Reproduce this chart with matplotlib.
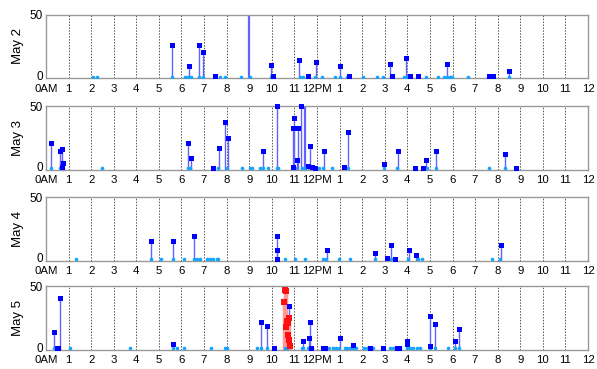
import matplotlib
matplotlib.use("Agg")
import matplotlib.pyplot as plt
from matplotlib.transforms import ScaledTranslation

plt.rcParams['font.family'] = ['Liberation Sans', 'DejaVu Sans']

days = ["May 2", "May 3", "May 4", "May 5"]

# stems (hour of day, value)
may2_hr = [5.58, 6.33, 6.79, 6.95, 7.48, 9.0, 9.95, 10.04, 11.22, 11.60, 11.96, 13.02,
           13.40, 15.23, 15.30, 15.94, 16.10, 16.46, 17.76, 19.60, 19.72, 19.80, 20.49]
may2_val = [26, 9.4, 26, 20.8, 1.5, 80, 10.2, 1.5, 14.6, 1.5, 12.7, 9.4,
            1.5, 11.2, 1.5, 15.9, 1.5, 1.5, 11.2, 1.5, 1.5, 1.5, 6.0]

may3_hr = [0.21, 0.62, 0.69, 0.77, 0.72, 6.27, 6.41, 7.41, 7.66, 7.94, 8.04, 9.60, 10.21,
           10.93, 10.98, 10.95, 11.15, 11.13, 11.29, 11.47, 11.59, 11.69, 11.80, 11.90, 12.31,
           13.21, 13.39, 14.97, 15.57, 16.34, 16.71, 16.81, 17.26, 20.33, 20.80]
may3_val = [21, 15, 16.4, 5.5, 2, 21, 9.4, 1.5, 16.9, 38, 25.3, 15.1, 50,
            2, 41, 32.5, 32.5, 7.3, 50, 60, 3, 19, 2, 1.5, 15.1,
            2, 29.4, 4.2, 15.1, 1.5, 1.5, 7.8, 15.1, 12.2, 1.5]

may4_hr = [4.66, 5.62, 6.55, 10.21, 10.21, 10.21, 12.43, 14.57, 15.09, 15.27, 15.46,
           16.09, 16.39, 20.14]
may4_val = [15.4, 15.4, 19.5, 19.0, 8.0, 1.5, 8.0, 6.0, 2.3, 12.5, 1.5,
            8.6, 4.2, 12.0]

may5_hr = [0.35, 0.50, 0.55, 0.62, 5.61, 9.51, 9.77, 10.11, 10.78, 11.40, 11.65, 11.69,
           11.73, 12.25, 12.35, 13.02, 13.58, 14.35, 14.91, 15.55, 15.65, 16.00, 16.00,
           17.01, 17.01, 17.23, 18.11, 18.29]
may5_val = [14.1, 1.5, 1.5, 40.6, 4.7, 21.9, 18.5, 1.5, 34.9, 6.8, 9.4, 21.9,
            1.5, 1.5, 1.5, 9.4, 3.4, 1.5, 1.5, 1.5, 1.5, 6.8, 4.5,
            26.8, 3.0, 20.3, 6.8, 16.4]

# red burst on May 5
may5_red_hr = [10.56, 10.59, 10.62, 10.64, 10.66, 10.68, 10.70, 10.72, 10.75, 10.78, 10.80]
may5_red_val = [38, 47.5, 46, 18, 22, 23, 21, 12, 8, 25, 3]

# light blue dots near zero
may2_dots = [2.10, 2.24, 5.58, 6.16, 6.27, 6.41, 6.79, 6.94, 7.71, 7.93, 8.62, 9.03, 9.95,
             10.04, 11.25, 11.40, 11.91, 12.21, 12.80, 13.02, 13.32, 14.02, 14.64, 14.91,
             15.87, 16.0, 16.83, 17.37, 17.63, 17.77, 17.89, 17.98, 18.70, 19.63, 20.49]
may3_dots = [0.21, 0.62, 0.77, 2.47, 6.27, 6.38, 7.63, 8.00, 8.69, 9.03, 9.13, 9.47, 9.60,
             9.83, 10.21, 10.28, 11.03, 11.32, 11.47, 12.10, 12.28, 12.65, 13.39, 14.97,
             15.53, 16.86, 17.26, 19.63, 20.33]
may4_dots = [1.33, 4.66, 5.09, 5.62, 6.11, 6.55, 6.70, 6.82, 7.12, 7.27, 7.41, 7.56, 7.63,
             10.21, 10.58, 11.03, 11.47, 12.28, 12.40, 12.99, 13.46, 14.57, 15.27, 16.03,
             16.45, 16.67, 19.74, 20.10]
may5_dots = [0.35, 0.50, 1.06, 3.72, 5.61, 5.82, 6.13, 7.29, 7.94, 8.00, 9.33, 9.51, 9.77,
             10.60, 10.68, 11.32, 11.40, 11.62, 11.76, 12.55, 12.70, 12.84, 12.99, 13.24,
             13.35, 13.46, 13.61, 13.73, 14.08, 14.20, 14.32, 14.42, 14.50, 14.91, 15.23,
             15.38, 15.50, 15.68, 16.00, 16.12, 16.27, 16.41, 16.56, 17.01, 17.23, 17.78,
             18.11, 18.29]

stems = [(may2_hr, may2_val), (may3_hr, may3_val), (may4_hr, may4_val), (may5_hr, may5_val)]
dots = [may2_dots, may3_dots, may4_dots, may5_dots]

hour_labels = ['0AM'] + [str(h) for h in range(1, 12)] + ['12PM'] + [str(h) for h in range(1, 13)]

fig = plt.figure(figsize=(5.97, 3.69), dpi=100)
bottoms = [0.788, 0.540, 0.294, 0.052]

for i, day in enumerate(days):
    ax = fig.add_axes([0.077, bottoms[i], 0.908, 0.172])
    ax.set_xlim(0, 24)
    ax.set_ylim(0, 50)
    for h in range(1, 24):
        ax.axvline(h, color='#555555', lw=0.7, ls=(0, (1.5, 1.5)), zorder=0)

    hr, val = stems[i]
    lw = [1.6 if v > 50 else 1.0 for v in val]
    ax.vlines(hr, 0, val, colors='#6262ff', lw=lw, zorder=2)
    mk_x = [h for h, v in zip(hr, val) if v <= 50]
    mk_y = [v for v in val if v <= 50]
    ax.plot(mk_x, mk_y, 's', color='#0000ff', ms=3.6, mew=0, clip_on=False, zorder=4)
    ax.plot(dots[i], [1.2] * len(dots[i]), 'o', color='#14a4ff', ms=2.6, mew=0, zorder=3)

    if day == "May 5":
        ax.vlines(may5_red_hr, 0, may5_red_val, colors='#ff9a9a', lw=2.5, zorder=2)
        ax.plot(may5_red_hr, may5_red_val, 's', color='#ff1010', ms=5, mew=0, zorder=5)

    ax.set_xticks(range(25))
    ax.set_xticklabels(hour_labels, fontsize=8.2)
    ax.set_yticks([0, 50])
    ax.set_yticklabels(['0', '50'], fontsize=8.5)
    ax.tick_params(axis='x', length=0, pad=4)
    ax.tick_params(axis='y', length=0, pad=2)
    # lift the "0" a little so it clears "0AM"
    zero_lbl = ax.get_yticklabels()[0]
    zero_lbl.set_transform(zero_lbl.get_transform() + ScaledTranslation(0, 2 / 72, fig.dpi_scale_trans))
    ax.set_ylabel(day, fontsize=9.5, labelpad=4)
    for s in ax.spines.values():
        s.set_color('#999999')
        s.set_linewidth(1.0)

fig.savefig("out.png", dpi=100)
